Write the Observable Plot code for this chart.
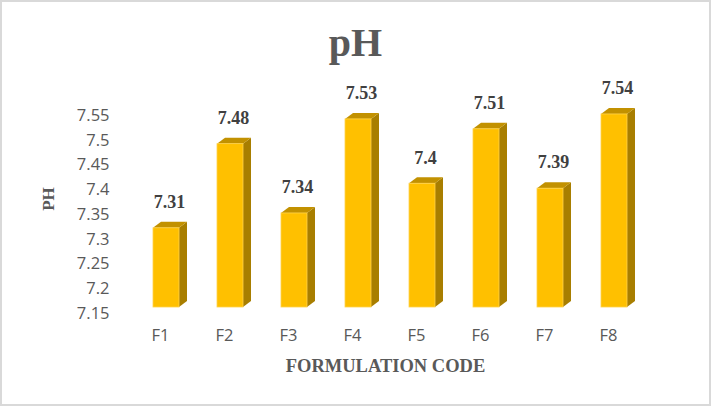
<!DOCTYPE html>
<html><head><meta charset="utf-8">
<script src="https://cdn.jsdelivr.net/npm/d3@7"></script>
<script src="https://cdn.jsdelivr.net/npm/@observablehq/plot@0.6"></script>
<style>
body{margin:0;background:#fff;}
#wrap{position:relative;width:711px;height:406px;overflow:hidden;}
#border{position:absolute;left:0;top:0;width:711px;height:406px;box-sizing:border-box;border:2px solid #d9d9d9;pointer-events:none;}
</style></head><body>
<div id="wrap"><div id="border"></div></div>
<script>
const codes = ["F1", "F2", "F3", "F4", "F5", "F6", "F7", "F8"];
const phValues = [7.31, 7.48, 7.34, 7.53, 7.4, 7.51, 7.39, 7.54];
const yTicks = [7.15, 7.2, 7.25, 7.3, 7.35, 7.4, 7.45, 7.5, 7.55];
const yDomain = [7.15, 7.55];
const titleText = "pH";
const xTitle = "FORMULATION CODE";
const yTitle = "PH";

const data = codes.map((code, i) => ({code, ph: phValues[i]}));
const base = yDomain[0];

const DEPTH_X = 8, DEPTH_Y = 6, LIFT = 6;
const serif = "'Liberation Serif', 'Times New Roman', serif";

function build(bw) {
  return Plot.plot({
    width: 711, height: 406,
    marginLeft: 113, marginRight: 44, marginTop: 115, marginBottom: 93,
    x: {domain: codes, padding: 0.6, label: null, axis: null},
    y: {domain: yDomain, label: null, axis: null},
    style: {fontFamily: "'Open Sans', sans-serif", fontSize: "16.5px", color: "#595959", background: "transparent", overflow: "visible"},
    marks: [
      Plot.axisY({ticks: yTicks, tickSize: 0, tickPadding: 4, tickFormat: d3.format("~g"), label: null}),
      Plot.axisX({tickSize: 0, tickPadding: 16, dx: -6, label: null}),
      Plot.barY(data, {x: "code", y1: () => base, y2: "ph", dy: -LIFT, insetLeft: bw, insetRight: -DEPTH_X, fill: "#A87E00", ariaDescription: "side"}),
      Plot.barY(data, {x: "code", y1: "ph", y2: "ph", dy: -LIFT, insetTop: -DEPTH_Y, fill: "#C29100", ariaDescription: "topface"}),
      Plot.barY(data, {x: "code", y1: () => base, y2: "ph", dy: -LIFT, fill: "#FFC000", stroke: "#FFD34D", strokeWidth: 0.8, ariaDescription: "front"}),
      Plot.text(data, {x: "code", y: "ph", text: d => String(d.ph), dy: -32, dx: 3, fontFamily: serif, fontWeight: "bold", fontSize: 18, fill: "#404040"}),
      Plot.text([titleText], {frameAnchor: "top", lineAnchor: "middle", textAnchor: "middle", dx: -35, dy: -72, fontFamily: serif, fontWeight: "bold", fontSize: 40, fill: "#595959"}),
      Plot.text([xTitle], {frameAnchor: "bottom", lineAnchor: "middle", textAnchor: "middle", dx: -5, dy: 53, fontFamily: serif, fontWeight: "bold", fontSize: 18.5, fill: "#595959"}),
      Plot.text([yTitle], {frameAnchor: "left", lineAnchor: "middle", textAnchor: "middle", rotate: -90, dx: -64.5, dy: -15.5, fontFamily: serif, fontWeight: "bold", fontSize: 17, fill: "#595959"})
    ]
  });
}

const first = build(0);
const bw = first.scale("x").bandwidth;
const chart = build(bw);

const skewSide = Math.atan2(-DEPTH_Y, DEPTH_X) * 180 / Math.PI;
const skewTop = Math.atan2(-DEPTH_X, DEPTH_Y) * 180 / Math.PI;
d3.select(chart).selectAll('g[aria-description="side"] rect').each(function() {
  const xr = +this.getAttribute("x");
  const t = this.getAttribute("transform") || "";
  this.setAttribute("transform", `${t} translate(${xr},0) skewY(${skewSide}) translate(${-xr},0)`);
});
d3.select(chart).selectAll('g[aria-description="topface"] rect').each(function() {
  const yb = +this.getAttribute("y") + +this.getAttribute("height");
  const t = this.getAttribute("transform") || "";
  this.setAttribute("transform", `${t} translate(0,${yb}) skewX(${skewTop}) translate(0,${-yb})`);
});

document.getElementById("wrap").insertBefore(chart, document.getElementById("border"));
</script>
</body></html>
